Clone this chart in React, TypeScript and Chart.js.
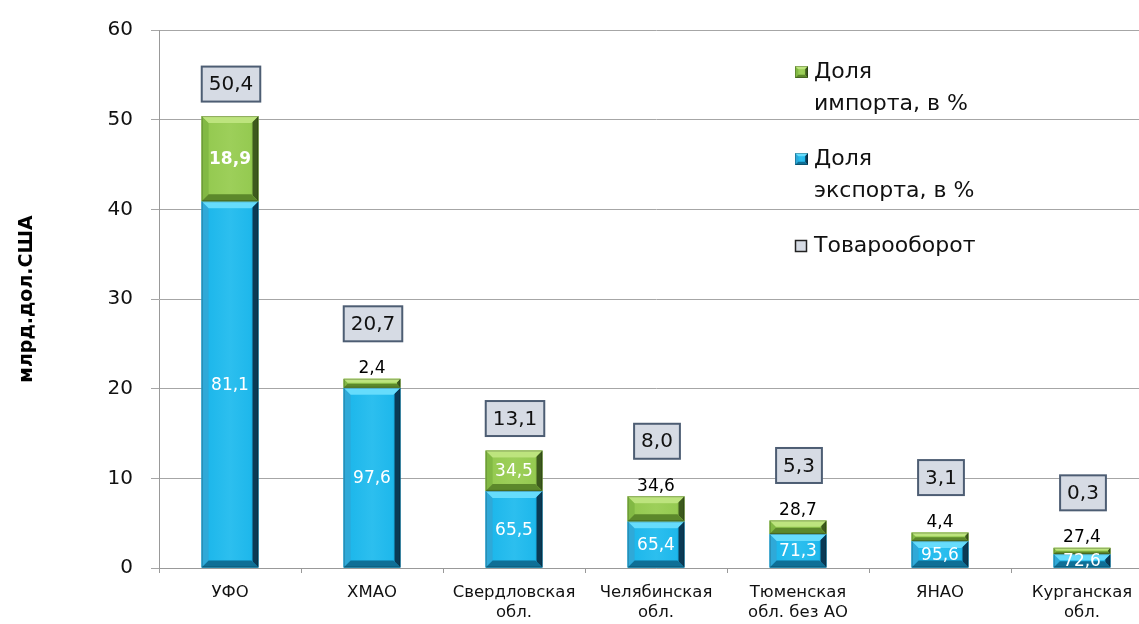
import React, { useEffect, useRef } from "react";
import { Chart, registerables } from "chart.js";

Chart.register(...registerables);

const categories: (string | string[])[] = [
  "УФО",
  "ХМАО",
  ["Свердловская", "обл."],
  ["Челябинская", "обл."],
  ["Тюменская", "обл. без АО"],
  "ЯНАО",
  ["Курганская", "обл."],
];

// bar segment heights, bln USD
const exportValues = [40.9, 20.1, 8.6, 5.2, 3.8, 3.0, 1.55];
const importValues = [9.5, 1.0, 4.5, 2.8, 1.5, 0.95, 0.7];

// labels shown on the segments (% shares) and turnover totals
const exportShare = [81.1, 97.6, 65.5, 65.4, 71.3, 95.6, 72.6];
const importShare = [18.9, 2.4, 34.5, 34.6, 28.7, 4.4, 27.4];
const turnover = [50.4, 20.7, 13.1, 8.0, 5.3, 3.1, 0.3];

const yTicks = [0, 10, 20, 30, 40, 50, 60];

const FONT = "'DejaVu Sans', sans-serif";
const fmt = (v: number) => v.toFixed(1).replace(".", ",");

const BLUE = { face: "#19b5ea", top: "#66dcfc", left: "#2fa9d8", right: "#0a3a55", bottom: "#0f6f96" };
const GREEN = { face: "#92c84e", top: "#bde47e", left: "#82b944", right: "#3d5a1d", bottom: "#5c882b" };

function drawBevel(ctx: CanvasRenderingContext2D, l: number, t: number, r: number, b: number, c: any) {
  const h = b - t;
  const w = r - l;
  const s = Math.max(1, Math.min(7, h / 2 - 0.5, w / 4));
  ctx.save();
  const fg = ctx.createLinearGradient(l, 0, r, 0);
  fg.addColorStop(0, c.face);
  fg.addColorStop(0.5, c.top);
  fg.addColorStop(1, c.face);
  ctx.fillStyle = c.face;
  ctx.fillRect(l, t, w, h);
  ctx.globalAlpha = 0.25;
  ctx.fillStyle = fg;
  ctx.fillRect(l + s, t + s, w - 2 * s, h - 2 * s);
  ctx.globalAlpha = 1;
  const poly = (pts: number[][], col: any) => {
    ctx.beginPath();
    ctx.moveTo(pts[0][0], pts[0][1]);
    for (let i = 1; i < pts.length; i++) ctx.lineTo(pts[i][0], pts[i][1]);
    ctx.closePath();
    ctx.fillStyle = col;
    ctx.fill();
  };
  poly([[l, t], [l + s, t + s], [l + s, b - s], [l, b]], c.left);
  const gr = ctx.createLinearGradient(r - s, 0, r, 0);
  gr.addColorStop(0, c.face);
  gr.addColorStop(0.3, c.right);
  gr.addColorStop(1, c.right);
  poly([[r, t], [r - s, t + s], [r - s, b - s], [r, b]], gr);
  poly([[l, t], [r, t], [r - s, t + s], [l + s, t + s]], c.top);
  poly([[l, b], [r, b], [r - s, b - s], [l + s, b - s]], c.bottom);
  ctx.strokeStyle = "rgba(0,0,0,0.25)";
  ctx.lineWidth = 1;
  ctx.strokeRect(l + 0.5, t + 0.5, w - 1, h - 1);
  ctx.restore();
}

const barsPlugin = {
  id: "bevelBars",
  afterDatasetsDraw(chart: any) {
    const ctx = chart.ctx;
    const colors = [BLUE, GREEN];
    chart.data.datasets.forEach((_ds: any, di: number) => {
      const meta = chart.getDatasetMeta(di);
      meta.data.forEach((el: any) => {
        const p = el.getProps(["x", "y", "base", "width"], true);
        const l = p.x - p.width / 2;
        const r = p.x + p.width / 2;
        const t = Math.min(p.y, p.base);
        const b = Math.max(p.y, p.base);
        if (b - t < 0.5) return;
        drawBevel(ctx, l, t, r, b, colors[di]);
      });
    });

    const expMeta = chart.getDatasetMeta(0);
    const impMeta = chart.getDatasetMeta(1);
    ctx.save();
    ctx.textAlign = "center";
    ctx.textBaseline = "middle";
    expMeta.data.forEach((el: any, i: number) => {
      const p = el.getProps(["x", "y", "base"], true);
      ctx.font = `17px ${FONT}`;
      ctx.fillStyle = "#ffffff";
      ctx.fillText(fmt(exportShare[i]), p.x, (p.y + p.base) / 2 + 1);
    });
    impMeta.data.forEach((el: any, i: number) => {
      const p = el.getProps(["x", "y", "base"], true);
      const h = Math.abs(p.base - p.y);
      let boxOffset;
      if (h > 32) {
        ctx.font = `${h > 60 ? "bold " : ""}17px ${FONT}`;
        ctx.fillStyle = "#ffffff";
        ctx.fillText(fmt(importShare[i]), p.x, (p.y + p.base) / 2 + 1);
        boxOffset = 32;
      } else {
        ctx.font = `17px ${FONT}`;
        ctx.fillStyle = "#000000";
        ctx.fillText(fmt(importShare[i]), p.x, p.y - 10);
        boxOffset = 55;
      }
      const txt = fmt(turnover[i]);
      ctx.font = `20px ${FONT}`;
      const tw = ctx.measureText(txt).width;
      const bw = tw + 14;
      const bh = 35;
      const cx = p.x + 1;
      const cy = p.y - boxOffset;
      ctx.fillStyle = "#d6dbe4";
      ctx.fillRect(cx - bw / 2, cy - bh / 2, bw, bh);
      ctx.strokeStyle = "#4d5d73";
      ctx.lineWidth = 2;
      ctx.strokeRect(cx - bw / 2, cy - bh / 2, bw, bh);
      ctx.fillStyle = "#111111";
      ctx.fillText(txt, cx, cy + 1);
    });
    ctx.restore();
  },
  afterDraw(chart: any) {
    const ctx = chart.ctx;
    ctx.save();
    ctx.font = `22px ${FONT}`;
    ctx.textAlign = "left";
    ctx.textBaseline = "alphabetic";
    ctx.fillStyle = "#111111";
    const items = [
      { c: GREEN, lines: ["Доля", "импорта, в %"], y: 78 },
      { c: BLUE, lines: ["Доля", "экспорта, в %"], y: 165 },
      { c: null, lines: ["Товарооборот"], y: 252 },
    ];
    items.forEach((it) => {
      const mx = 795, my = it.y - 12, ms = 12;
      if (it.c) drawBevel(ctx, mx, my, mx + ms + 1, my + ms, it.c);
      else {
        ctx.fillStyle = "#d6dbe4";
        ctx.fillRect(mx, my, ms, ms);
        ctx.strokeStyle = "#222";
        ctx.lineWidth = 1.5;
        ctx.strokeRect(mx + 0.5, my + 0.5, ms - 1, ms - 1);
      }
      ctx.fillStyle = "#111111";
      it.lines.forEach((ln, k) => ctx.fillText(ln, 814, it.y + k * 32));
    });
    ctx.restore();
  },
};

export default function App() {
  const ref = useRef<HTMLCanvasElement>(null);
  useEffect(() => {
    const chart = new Chart(ref.current as HTMLCanvasElement, {
      type: "bar",
      data: {
        labels: categories,
        datasets: [
          { label: "Доля экспорта, в %", data: exportValues, backgroundColor: BLUE.face, barPercentage: 0.8, categoryPercentage: 0.5 },
          { label: "Доля импорта, в %", data: importValues, backgroundColor: GREEN.face, barPercentage: 0.8, categoryPercentage: 0.5 },
        ],
      },
      options: {
        responsive: false,
        animation: false,
        devicePixelRatio: 1,
        layout: { padding: { left: 0, top: 27, right: 9, bottom: 0 } },
        plugins: { legend: { display: false }, tooltip: { enabled: false } },
        scales: {
          x: {
            stacked: true,
            grid: { display: true, offset: true, drawOnChartArea: false, color: "#999", tickLength: 5 },
            border: { color: "#999" },
            ticks: { color: "#111", font: { family: FONT, size: 16.5, lineHeight: 1.25 }, padding: 9, maxRotation: 0, autoSkip: false },
            afterFit: (s: any) => { s.height = 56; },
          },
          y: {
            stacked: true,
            min: 0,
            max: 60,
            afterBuildTicks: (s: any) => { s.ticks = yTicks.map((v) => ({ value: v })); },
            grid: { color: "#a6a6a6", tickLength: 8 },
            border: { color: "#999" },
            ticks: { color: "#111", font: { family: FONT, size: 20 }, padding: 18 },
            title: { display: true, text: "млрд.дол.США", color: "#000", font: { family: FONT, size: 19, weight: "bold", lineHeight: 1.2 }, padding: { top: 16, bottom: 0 } },
            afterFit: (s: any) => { s.width = 159; },
          },
        },
      },
      plugins: [barsPlugin],
    } as any);
    return () => chart.destroy();
  }, []);
  return (
    <div style={{ position: "fixed", left: 0, top: 0, width: 1139, height: 624, overflow: "hidden", background: "#fff" }}>
      <canvas ref={ref} width={1162} height={624} style={{ width: 1162, height: 624, display: "block" }} />
    </div>
  );
}
